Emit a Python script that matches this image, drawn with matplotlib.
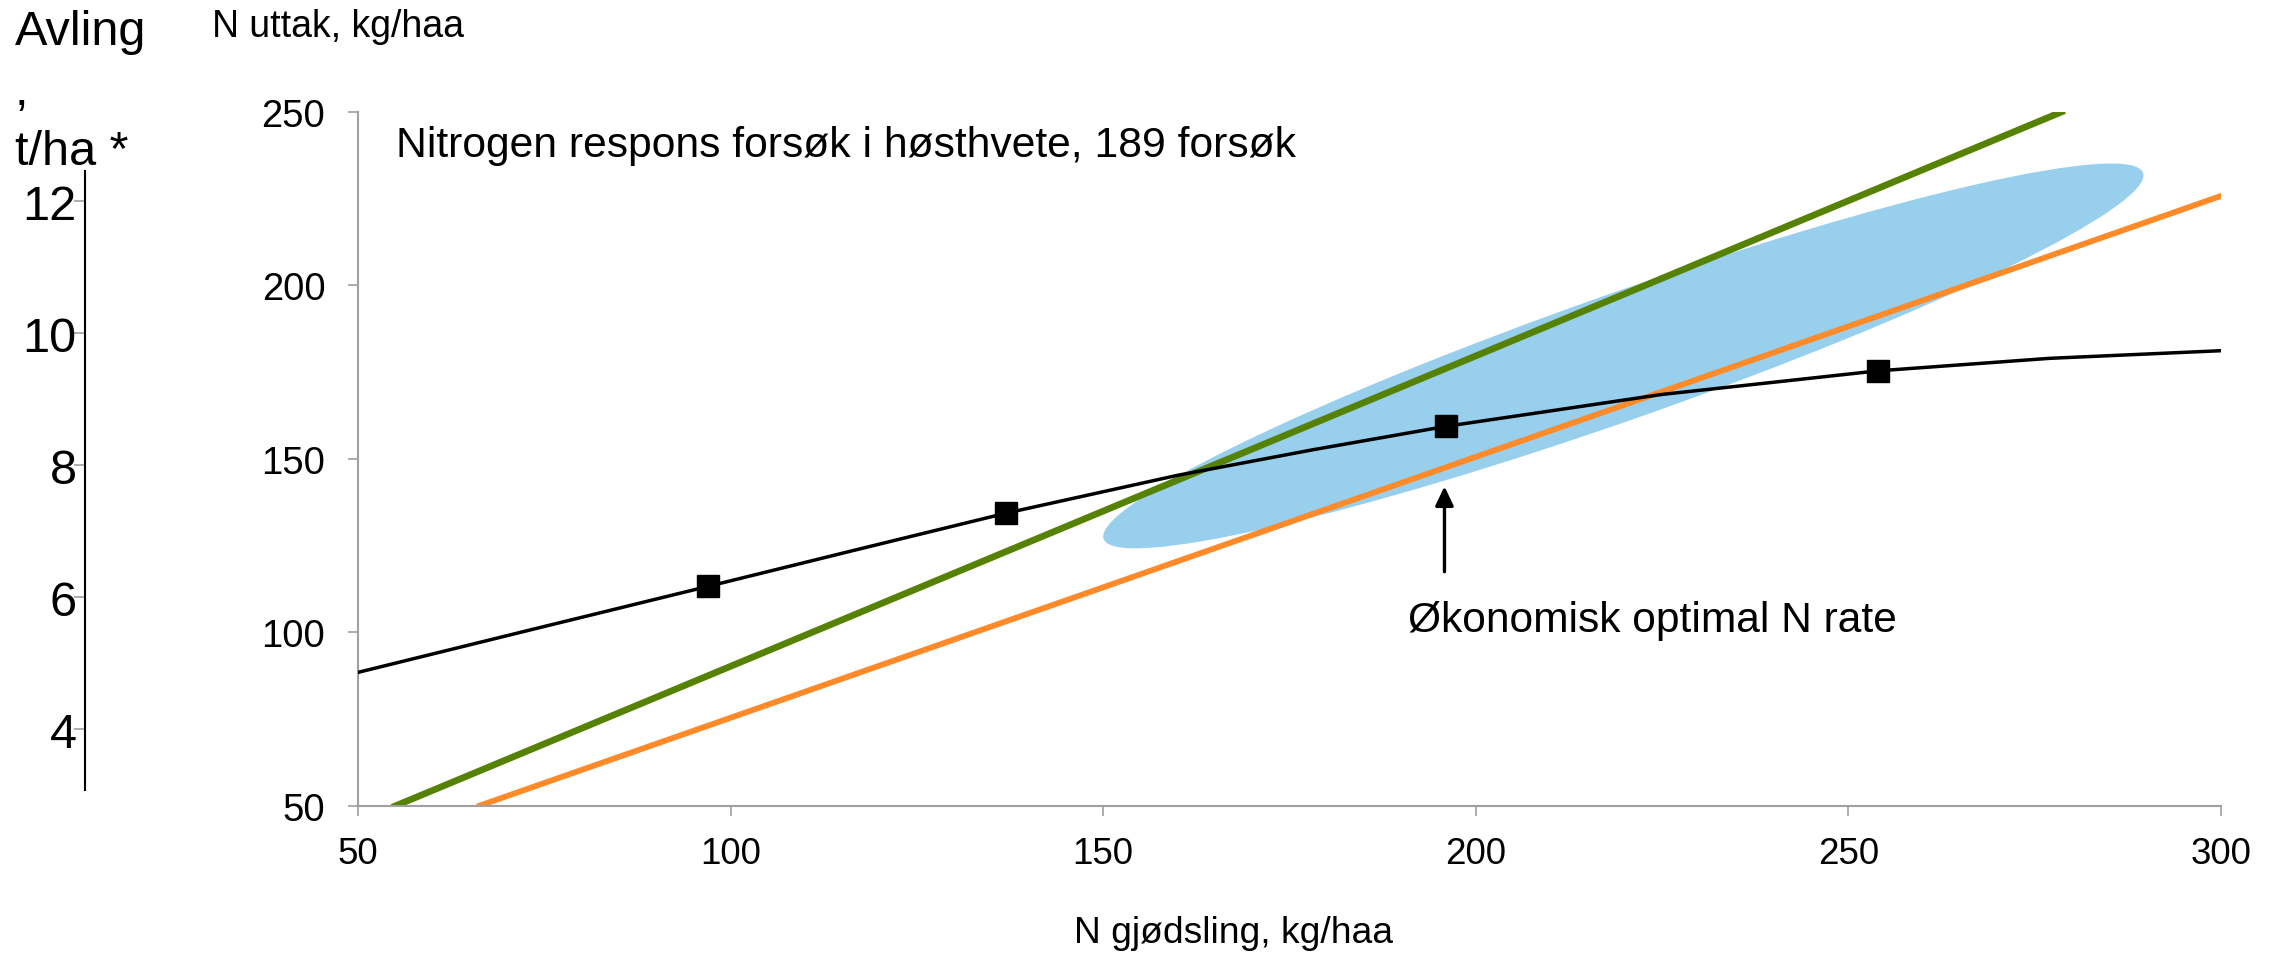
import matplotlib
matplotlib.use("Agg")
import matplotlib.pyplot as plt
import matplotlib.transforms as mtransforms
from matplotlib.patches import Ellipse

plt.rcParams['font.family'] = ['Liberation Sans', 'DejaVu Sans']

# N gjødsling (x) vs N uttak (y), fitted response curve
curve_x = [50, 74, 97, 117, 137, 160, 178, 196, 225, 254, 277, 300]
curve_y = [88.5, 101.2, 113.3, 123.9, 134.4, 145.3, 152.6, 159.4, 168.6, 175.4, 179.0, 181.2]

# measured treatments (squares)
point_x = [97, 137, 196, 254]
point_y = [113.3, 134.4, 159.4, 175.4]

# straight lines, start and end points
green_x = [55, 278.6]
green_y = [50, 250]
orange_x = [66.2, 300]
orange_y = [50, 225.8]

# blue area: centre in data units, size in inches, tilt in degrees
ellipse_xy = (219.8, 179.7)
ellipse_w, ellipse_h, ellipse_angle = 11.02, 1.26, 19.4

# optimum arrow
arrow_x = 195.8
arrow_from, arrow_to = 117.5, 142.1

x_ticks = [50, 100, 150, 200, 250, 300]
y_ticks = [50, 100, 150, 200, 250]
yield_ticks = [4, 6, 8, 10, 12]

GREY = '#A0A0A0'

fig = plt.figure(figsize=(22.77, 9.54), dpi=100)

# main chart
ax = fig.add_axes([0.1572, 0.1541, 0.8182, 0.7275])
ax.set_xlim(50, 300)
ax.set_ylim(50, 250)
ax.set_xticks(x_ticks)
ax.set_yticks(y_ticks)
for side in ['top', 'right']:
    ax.spines[side].set_visible(False)
for side in ['left', 'bottom']:
    ax.spines[side].set_color(GREY)
    ax.spines[side].set_linewidth(1.5)
ax.tick_params(axis='both', color=GREY, width=1.2, length=7.5, direction='out')
ax.tick_params(axis='x', labelsize=26.5, pad=14)
ax.tick_params(axis='y', labelsize=27.5, pad=16)

tr = fig.dpi_scale_trans + mtransforms.ScaledTranslation(ellipse_xy[0], ellipse_xy[1], ax.transData)
ax.add_patch(Ellipse((0, 0), ellipse_w, ellipse_h, angle=ellipse_angle,
                     facecolor='#98CFEC', edgecolor='none', transform=tr, zorder=1))

ax.plot(green_x, green_y, color='#568203', linewidth=4.8, zorder=2)
ax.plot(orange_x, orange_y, color='#FF8A2A', linewidth=4.2, solid_capstyle='round', zorder=2)
ax.plot(curve_x, curve_y, color='black', linewidth=2.5, solid_joinstyle='round', zorder=3)
ax.plot(point_x, point_y, linestyle='none', marker='s', markersize=15.5,
        color='black', zorder=4)

ax.annotate('', xy=(arrow_x, arrow_to), xytext=(arrow_x, arrow_from),
            arrowprops=dict(arrowstyle='-|>,head_length=0.4,head_width=0.19',
                            mutation_scale=29, color='black', lw=2.4,
                            shrinkA=0, shrinkB=0), zorder=5)

ax.text(55.1, 237.2, 'Nitrogen respons forsøk i høsthvete, 189 forsøk',
        fontsize=30.7, va='baseline')
ax.text(190.9, 100.4, 'Økonomisk optimal N rate', fontsize=30.6, va='baseline')

# left yield axis (Avling)
ax2 = fig.add_axes([0.0373, 0.1709, 0.0001, 0.6488])
ax2.patch.set_visible(False)
ax2.set_ylim(3.08, 12.46)
ax2.set_yticks(yield_ticks)
ax2.set_xticks([])
for side in ['top', 'right', 'bottom']:
    ax2.spines[side].set_visible(False)
ax2.spines['left'].set_color('black')
ax2.spines['left'].set_linewidth(1.5)
ax2.tick_params(axis='y', color=GREY, width=1.2, length=8, labelsize=35, pad=-2)

fig.text(15 / 2277, 1 - 45 / 954, 'Avling', fontsize=35, va='baseline')
fig.text(15 / 2277, 1 - 105 / 954, ',', fontsize=35, va='baseline')
fig.text(15 / 2277, 1 - 165 / 954, 't/ha *', fontsize=35, va='baseline')
fig.text(212 / 2277, 1 - 36.7 / 954, 'N uttak, kg/haa', fontsize=27, va='baseline')
fig.text(1233 / 2277, 0.0115, 'N gjødsling, kg/haa', fontsize=26.8, ha='center', va='baseline')

fig.savefig('out.png', dpi=100)
